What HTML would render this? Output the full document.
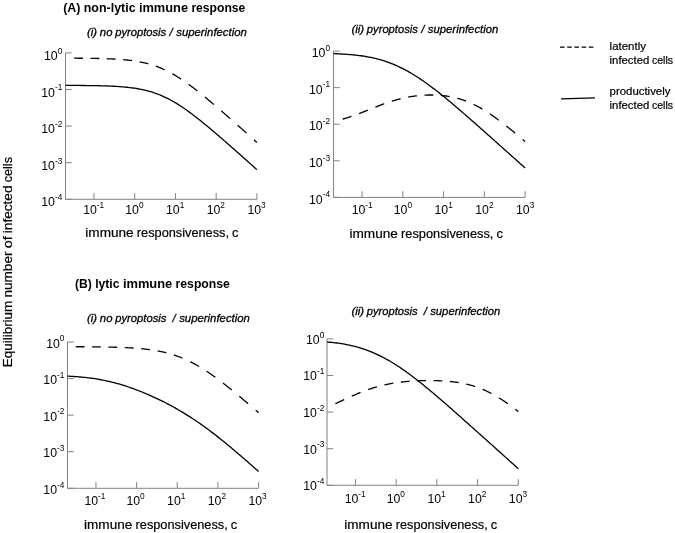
<!DOCTYPE html>
<html><head><meta charset="utf-8"><title>Equilibrium number of infected cells</title>
<style>html,body{margin:0;padding:0;background:#fff;}svg{display:block;font-family:"Liberation Sans",sans-serif;}</style></head><body>
<svg width="675" height="533" viewBox="0 0 675 533">
<rect width="675" height="533" fill="#ffffff"/>
<text y="11.8" font-size="13.0" font-weight="bold" fill="#000"><tspan x="63.20" textLength="17.28" lengthAdjust="spacingAndGlyphs">(A)</tspan> <tspan x="83.77" textLength="51.81" lengthAdjust="spacingAndGlyphs">non-lytic</tspan> <tspan x="138.88" textLength="49.21" lengthAdjust="spacingAndGlyphs">immune</tspan> <tspan x="191.39" textLength="54.01" lengthAdjust="spacingAndGlyphs">response</tspan></text>
<text y="287.5" font-size="13.0" font-weight="bold" fill="#000"><tspan x="75.00" textLength="16.84" lengthAdjust="spacingAndGlyphs">(B)</tspan> <tspan x="95.14" textLength="24.43" lengthAdjust="spacingAndGlyphs">lytic</tspan> <tspan x="122.88" textLength="49.40" lengthAdjust="spacingAndGlyphs">immune</tspan> <tspan x="175.59" textLength="54.21" lengthAdjust="spacingAndGlyphs">response</tspan></text>
<text y="36.0" font-size="11.4" font-style="italic" fill="#000" stroke="#000" stroke-width="0.3"><tspan x="87.10" textLength="10.02" lengthAdjust="spacingAndGlyphs">(i)</tspan> <tspan x="99.83" textLength="12.62" lengthAdjust="spacingAndGlyphs">no</tspan> <tspan x="115.17" textLength="51.00" lengthAdjust="spacingAndGlyphs">pyroptosis</tspan> <tspan x="169.61">/</tspan> <tspan x="176.22" textLength="70.58" lengthAdjust="spacingAndGlyphs">superinfection</tspan></text>
<text y="32.75" font-size="11.4" font-style="italic" fill="#000" stroke="#000" stroke-width="0.3"><tspan x="351.40" textLength="12.76" lengthAdjust="spacingAndGlyphs">(ii)</tspan> <tspan x="366.86" textLength="50.93" lengthAdjust="spacingAndGlyphs">pyroptosis</tspan> <tspan x="421.23">/</tspan> <tspan x="427.83" textLength="70.47" lengthAdjust="spacingAndGlyphs">superinfection</tspan></text>
<text y="322.3" font-size="11.4" font-style="italic" fill="#000" stroke="#000" stroke-width="0.3"><tspan x="87.10" textLength="10.05" lengthAdjust="spacingAndGlyphs">(i)</tspan> <tspan x="99.87" textLength="12.65" lengthAdjust="spacingAndGlyphs">no</tspan> <tspan x="115.24" textLength="51.12" lengthAdjust="spacingAndGlyphs">pyroptosis</tspan>  <tspan x="172.53">/</tspan> <tspan x="179.16" textLength="70.74" lengthAdjust="spacingAndGlyphs">superinfection</tspan></text>
<text y="314.75" font-size="11.4" font-style="italic" fill="#000" stroke="#000" stroke-width="0.3"><tspan x="351.40" textLength="12.70" lengthAdjust="spacingAndGlyphs">(ii)</tspan> <tspan x="366.80" textLength="50.72" lengthAdjust="spacingAndGlyphs">pyroptosis</tspan>  <tspan x="423.63">/</tspan> <tspan x="430.21" textLength="70.19" lengthAdjust="spacingAndGlyphs">superinfection</tspan></text>
<text transform="translate(11.8,367.2) rotate(-90)" y="0" font-size="13.0" fill="#000" stroke="#000" stroke-width="0.2"><tspan x="0.00" textLength="66.47" lengthAdjust="spacingAndGlyphs">Equilibrium</tspan> <tspan x="69.69" textLength="45.99" lengthAdjust="spacingAndGlyphs">number</tspan> <tspan x="118.91" textLength="11.89" lengthAdjust="spacingAndGlyphs">of</tspan> <tspan x="134.03" textLength="47.66" lengthAdjust="spacingAndGlyphs">infected</tspan> <tspan x="184.92" textLength="25.28" lengthAdjust="spacingAndGlyphs">cells</tspan></text>
<line x1="560" y1="47.2" x2="594" y2="47.2" stroke="#000" stroke-width="1.2" stroke-dasharray="4.6 2.6"/>
<line x1="561" y1="98.8" x2="595" y2="97.9" stroke="#000" stroke-width="1.35"/>
<text y="49.5" font-size="10.7" fill="#000" stroke="#000" stroke-width="0.2"><tspan x="609.60" textLength="36.40" lengthAdjust="spacingAndGlyphs">latently</tspan></text>
<text y="64.1" font-size="10.7" fill="#000" stroke="#000" stroke-width="0.2"><tspan x="609.60" textLength="39.67" lengthAdjust="spacingAndGlyphs">infected</tspan> <tspan x="651.96" textLength="21.04" lengthAdjust="spacingAndGlyphs">cells</tspan></text>
<text y="95.0" font-size="10.7" fill="#000" stroke="#000" stroke-width="0.2"><tspan x="609.60" textLength="60.80" lengthAdjust="spacingAndGlyphs">productively</tspan></text>
<text y="108.9" font-size="10.7" fill="#000" stroke="#000" stroke-width="0.2"><tspan x="609.60" textLength="39.67" lengthAdjust="spacingAndGlyphs">infected</tspan> <tspan x="651.96" textLength="21.04" lengthAdjust="spacingAndGlyphs">cells</tspan></text>
<text y="236.6" font-size="12.8" fill="#000" stroke="#000" stroke-width="0.2"><tspan x="85.30" textLength="48.31" lengthAdjust="spacingAndGlyphs">immune</tspan> <tspan x="136.85" textLength="92.17" lengthAdjust="spacingAndGlyphs">responsiveness,</tspan> <tspan x="232.07">c</tspan></text>
<text y="238.0" font-size="12.8" fill="#000" stroke="#000" stroke-width="0.2"><tspan x="349.50" textLength="48.37" lengthAdjust="spacingAndGlyphs">immune</tspan> <tspan x="401.11" textLength="92.29" lengthAdjust="spacingAndGlyphs">responsiveness,</tspan> <tspan x="496.47">c</tspan></text>
<text y="528.8" font-size="12.8" fill="#000" stroke="#000" stroke-width="0.2"><tspan x="84.00" textLength="48.31" lengthAdjust="spacingAndGlyphs">immune</tspan> <tspan x="135.55" textLength="92.17" lengthAdjust="spacingAndGlyphs">responsiveness,</tspan> <tspan x="230.77">c</tspan></text>
<text y="528.8" font-size="12.8" fill="#000" stroke="#000" stroke-width="0.2"><tspan x="344.30" textLength="48.21" lengthAdjust="spacingAndGlyphs">immune</tspan> <tspan x="395.74" textLength="91.99" lengthAdjust="spacingAndGlyphs">responsiveness,</tspan> <tspan x="490.78">c</tspan></text>
<path d="M65.5,52.9 L65.5,199.3 L256.9,199.3" fill="none" stroke="#828282" stroke-width="1"/>
<path d="M93.97,199.3 L93.97,193.10000000000002 M134.70,199.3 L134.70,193.10000000000002 M175.44,199.3 L175.44,193.10000000000002 M216.17,199.3 L216.17,193.10000000000002 M256.90,199.3 L256.90,193.10000000000002 M65.5,52.90 L71.7,52.90 M65.5,89.50 L71.7,89.50 M65.5,126.10 L71.7,126.10 M65.5,162.70 L71.7,162.70 M65.5,199.30 L71.7,199.30 " fill="none" stroke="#828282" stroke-width="1"/>
<text x="83.17" y="213.96" font-size="12.3" fill="#000">10<tspan font-size="8.3" dy="-6.3">-1</tspan></text>
<text x="125.20" y="213.96" font-size="12.3" fill="#000">10<tspan font-size="8.3" dy="-6.3">0</tspan></text>
<text x="165.94" y="213.96" font-size="12.3" fill="#000">10<tspan font-size="8.3" dy="-6.3">1</tspan></text>
<text x="206.67" y="213.96" font-size="12.3" fill="#000">10<tspan font-size="8.3" dy="-6.3">2</tspan></text>
<text x="247.40" y="213.96" font-size="12.3" fill="#000">10<tspan font-size="8.3" dy="-6.3">3</tspan></text>
<text x="62.35" y="60.00" font-size="12.3" text-anchor="end" fill="#000">10<tspan font-size="8.3" dy="-6.3">0</tspan></text>
<text x="62.35" y="96.60" font-size="12.3" text-anchor="end" fill="#000">10<tspan font-size="8.3" dy="-6.3">-1</tspan></text>
<text x="62.35" y="133.20" font-size="12.3" text-anchor="end" fill="#000">10<tspan font-size="8.3" dy="-6.3">-2</tspan></text>
<text x="62.35" y="169.80" font-size="12.3" text-anchor="end" fill="#000">10<tspan font-size="8.3" dy="-6.3">-3</tspan></text>
<text x="62.35" y="206.40" font-size="12.3" text-anchor="end" fill="#000">10<tspan font-size="8.3" dy="-6.3">-4</tspan></text>
<path d="M65.50,85.39 L67.11,85.40 L68.72,85.41 L70.33,85.41 L71.93,85.42 L73.54,85.43 L75.15,85.44 L76.76,85.45 L78.37,85.46 L79.98,85.47 L81.58,85.49 L83.19,85.50 L84.80,85.52 L86.41,85.54 L88.02,85.56 L89.63,85.58 L91.23,85.60 L92.84,85.63 L94.45,85.65 L96.06,85.68 L97.67,85.72 L99.28,85.75 L100.88,85.79 L102.49,85.84 L104.10,85.88 L105.71,85.94 L107.32,85.99 L108.93,86.05 L110.54,86.12 L112.14,86.19 L113.75,86.27 L115.36,86.36 L116.97,86.46 L118.58,86.56 L120.19,86.67 L121.79,86.79 L123.40,86.93 L125.01,87.07 L126.62,87.23 L128.23,87.39 L129.84,87.58 L131.44,87.78 L133.05,87.99 L134.66,88.22 L136.27,88.47 L137.88,88.74 L139.49,89.03 L141.09,89.34 L142.70,89.67 L144.31,90.03 L145.92,90.42 L147.53,90.82 L149.14,91.26 L150.75,91.72 L152.35,92.22 L153.96,92.74 L155.57,93.30 L157.18,93.88 L158.79,94.50 L160.40,95.15 L162.00,95.83 L163.61,96.55 L165.22,97.29 L166.83,98.07 L168.44,98.89 L170.05,99.73 L171.65,100.61 L173.26,101.52 L174.87,102.46 L176.48,103.42 L178.09,104.42 L179.70,105.44 L181.31,106.50 L182.91,107.57 L184.52,108.67 L186.13,109.80 L187.74,110.94 L189.35,112.11 L190.96,113.30 L192.56,114.50 L194.17,115.72 L195.78,116.96 L197.39,118.22 L199.00,119.49 L200.61,120.77 L202.21,122.07 L203.82,123.38 L205.43,124.70 L207.04,126.02 L208.65,127.36 L210.26,128.71 L211.86,130.06 L213.47,131.43 L215.08,132.79 L216.69,134.17 L218.30,135.55 L219.91,136.94 L221.52,138.33 L223.12,139.73 L224.73,141.13 L226.34,142.53 L227.95,143.94 L229.56,145.35 L231.17,146.76 L232.77,148.18 L234.38,149.60 L235.99,151.02 L237.60,152.44 L239.21,153.86 L240.82,155.29 L242.42,156.72 L244.03,158.15 L245.64,159.58 L247.25,161.01 L248.86,162.45 L250.47,163.88 L252.07,165.32 L253.68,166.75 L255.29,168.19 L256.90,169.63" fill="none" stroke="#000" stroke-width="1.3" stroke-linejoin="round"/>
<path d="M74.10,58.19 L75.36,58.20 L76.61,58.21 L77.87,58.22 L79.13,58.23 L80.39,58.24 L81.64,58.25 L82.90,58.26 M90.46,58.35 L91.72,58.37 L92.97,58.39 L94.23,58.41 L95.49,58.43 L96.75,58.46 L98.00,58.48 L99.26,58.51 M106.82,58.73 L108.08,58.78 L109.33,58.83 L110.59,58.88 L111.85,58.94 L113.11,59.00 L114.36,59.06 L115.62,59.13 M123.18,59.67 L124.44,59.78 L125.69,59.89 L126.95,60.02 L128.21,60.15 L129.47,60.29 L130.72,60.44 L131.98,60.60 M139.54,61.80 L140.80,62.04 L142.05,62.30 L143.31,62.57 L144.57,62.85 L145.83,63.15 L147.08,63.47 L148.34,63.80 M155.90,66.17 L157.16,66.63 L158.41,67.11 L159.67,67.61 L160.93,68.13 L162.19,68.67 L163.44,69.23 L164.70,69.81 M172.26,73.71 L173.52,74.42 L174.77,75.16 L176.03,75.91 L177.29,76.68 L178.55,77.47 L179.80,78.27 L181.06,79.09 M188.62,84.34 L189.88,85.26 L191.13,86.19 L192.39,87.13 L193.65,88.08 L194.91,89.05 L196.16,90.02 L197.42,91.00 M204.98,97.08 L206.24,98.12 L207.49,99.16 L208.75,100.21 L210.01,101.26 L211.27,102.32 L212.52,103.38 L213.78,104.45 M221.34,110.94 L222.60,112.03 L223.85,113.12 L225.11,114.21 L226.37,115.31 L227.63,116.41 L228.88,117.51 L230.14,118.62 M237.70,125.29 L238.96,126.40 L240.21,127.52 L241.47,128.63 L242.73,129.75 L243.99,130.87 L245.24,131.98 L246.50,133.10 M254.06,139.85 L254.47,140.21 L254.87,140.57 L255.28,140.93 L255.68,141.30 L256.09,141.66 L256.49,142.02 L256.90,142.39 " fill="none" stroke="#000" stroke-width="1.3" stroke-linejoin="round"/>
<path d="M333.55,51.05 L333.55,197.4 L525.1,197.4" fill="none" stroke="#828282" stroke-width="1"/>
<path d="M362.04,197.4 L362.04,191.20000000000002 M402.81,197.4 L402.81,191.20000000000002 M443.57,197.4 L443.57,191.20000000000002 M484.34,197.4 L484.34,191.20000000000002 M525.10,197.4 L525.10,191.20000000000002 M333.55,51.05 L339.75,51.05 M333.55,87.64 L339.75,87.64 M333.55,124.23 L339.75,124.23 M333.55,160.81 L339.75,160.81 M333.55,197.40 L339.75,197.40 " fill="none" stroke="#828282" stroke-width="1"/>
<text x="351.64" y="213.85" font-size="12.3" fill="#000">10<tspan font-size="8.3" dy="-6.3">-1</tspan></text>
<text x="393.71" y="213.85" font-size="12.3" fill="#000">10<tspan font-size="8.3" dy="-6.3">0</tspan></text>
<text x="434.47" y="213.85" font-size="12.3" fill="#000">10<tspan font-size="8.3" dy="-6.3">1</tspan></text>
<text x="475.24" y="213.85" font-size="12.3" fill="#000">10<tspan font-size="8.3" dy="-6.3">2</tspan></text>
<text x="516.00" y="213.85" font-size="12.3" fill="#000">10<tspan font-size="8.3" dy="-6.3">3</tspan></text>
<text x="330.10" y="57.15" font-size="12.3" text-anchor="end" fill="#000">10<tspan font-size="8.3" dy="-6.3">0</tspan></text>
<text x="330.10" y="93.74" font-size="12.3" text-anchor="end" fill="#000">10<tspan font-size="8.3" dy="-6.3">-1</tspan></text>
<text x="330.10" y="130.33" font-size="12.3" text-anchor="end" fill="#000">10<tspan font-size="8.3" dy="-6.3">-2</tspan></text>
<text x="330.10" y="166.91" font-size="12.3" text-anchor="end" fill="#000">10<tspan font-size="8.3" dy="-6.3">-3</tspan></text>
<text x="330.10" y="203.50" font-size="12.3" text-anchor="end" fill="#000">10<tspan font-size="8.3" dy="-6.3">-4</tspan></text>
<path d="M333.55,53.64 L335.16,53.70 L336.77,53.77 L338.38,53.84 L339.99,53.92 L341.60,54.00 L343.21,54.09 L344.82,54.19 L346.43,54.30 L348.04,54.42 L349.65,54.55 L351.26,54.68 L352.87,54.83 L354.48,54.99 L356.09,55.16 L357.69,55.35 L359.30,55.55 L360.91,55.76 L362.52,55.99 L364.13,56.23 L365.74,56.50 L367.35,56.77 L368.96,57.07 L370.57,57.39 L372.18,57.73 L373.79,58.08 L375.40,58.46 L377.01,58.86 L378.62,59.29 L380.23,59.73 L381.84,60.20 L383.45,60.70 L385.06,61.22 L386.67,61.76 L388.28,62.33 L389.89,62.92 L391.50,63.54 L393.11,64.19 L394.72,64.86 L396.33,65.56 L397.94,66.28 L399.55,67.04 L401.16,67.81 L402.77,68.62 L404.38,69.45 L405.98,70.30 L407.59,71.18 L409.20,72.09 L410.81,73.02 L412.42,73.98 L414.03,74.95 L415.64,75.96 L417.25,76.98 L418.86,78.03 L420.47,79.10 L422.08,80.19 L423.69,81.30 L425.30,82.44 L426.91,83.59 L428.52,84.76 L430.13,85.94 L431.74,87.15 L433.35,88.36 L434.96,89.60 L436.57,90.85 L438.18,92.11 L439.79,93.38 L441.40,94.67 L443.01,95.97 L444.62,97.28 L446.23,98.60 L447.84,99.93 L449.45,101.27 L451.06,102.61 L452.67,103.97 L454.27,105.33 L455.88,106.70 L457.49,108.07 L459.10,109.45 L460.71,110.84 L462.32,112.23 L463.93,113.62 L465.54,115.02 L467.15,116.42 L468.76,117.83 L470.37,119.24 L471.98,120.65 L473.59,122.06 L475.20,123.48 L476.81,124.90 L478.42,126.32 L480.03,127.74 L481.64,129.17 L483.25,130.60 L484.86,132.03 L486.47,133.46 L488.08,134.89 L489.69,136.32 L491.30,137.75 L492.91,139.19 L494.52,140.62 L496.13,142.06 L497.74,143.49 L499.35,144.93 L500.96,146.37 L502.56,147.81 L504.17,149.25 L505.78,150.69 L507.39,152.13 L509.00,153.57 L510.61,155.01 L512.22,156.45 L513.83,157.89 L515.44,159.33 L517.05,160.78 L518.66,162.22 L520.27,163.66 L521.88,165.10 L523.49,166.55 L525.10,167.99" fill="none" stroke="#000" stroke-width="1.3" stroke-linejoin="round"/>
<path d="M342.70,119.10 L343.96,118.75 L345.21,118.39 L346.47,118.01 L347.73,117.63 L348.99,117.23 L350.24,116.82 L351.50,116.40 M359.06,113.66 L360.32,113.18 L361.57,112.69 L362.83,112.19 L364.09,111.69 L365.35,111.19 L366.60,110.68 L367.86,110.17 M375.42,107.12 L376.68,106.62 L377.93,106.13 L379.19,105.64 L380.45,105.16 L381.71,104.68 L382.96,104.22 L384.22,103.76 M391.78,101.20 L393.04,100.81 L394.29,100.44 L395.55,100.07 L396.81,99.72 L398.07,99.38 L399.32,99.05 L400.58,98.74 M408.14,97.11 L409.40,96.88 L410.65,96.67 L411.91,96.47 L413.17,96.28 L414.43,96.11 L415.68,95.94 L416.94,95.79 M424.50,95.16 L425.76,95.10 L427.01,95.06 L428.27,95.02 L429.53,95.00 L430.79,94.99 L432.04,95.00 L433.30,95.02 M440.86,95.42 L442.12,95.54 L443.37,95.68 L444.63,95.83 L445.89,95.99 L447.15,96.17 L448.40,96.37 L449.66,96.59 M457.22,98.27 L458.48,98.62 L459.73,98.98 L460.99,99.37 L462.25,99.78 L463.51,100.20 L464.76,100.65 L466.02,101.12 M473.58,104.39 L474.84,105.00 L476.09,105.64 L477.35,106.30 L478.61,106.97 L479.87,107.67 L481.12,108.38 L482.38,109.12 M489.94,113.91 L491.20,114.76 L492.45,115.63 L493.71,116.51 L494.97,117.40 L496.23,118.31 L497.48,119.23 L498.74,120.16 M506.30,125.99 L507.56,126.99 L508.81,128.00 L510.07,129.02 L511.33,130.04 L512.59,131.07 L513.84,132.10 L515.10,133.15 M522.66,139.52 L523.01,139.81 L523.36,140.11 L523.71,140.41 L524.05,140.71 L524.40,141.01 L524.75,141.31 L525.10,141.60 " fill="none" stroke="#000" stroke-width="1.3" stroke-linejoin="round"/>
<path d="M67.5,342.0 L67.5,488.3 L258.6,488.3" fill="none" stroke="#828282" stroke-width="1"/>
<path d="M95.93,488.3 L95.93,482.1 M136.59,488.3 L136.59,482.1 M177.26,488.3 L177.26,482.1 M217.93,488.3 L217.93,482.1 M258.60,488.3 L258.60,482.1 M67.5,342.00 L73.7,342.00 M67.5,378.57 L73.7,378.57 M67.5,415.15 L73.7,415.15 M67.5,451.73 L73.7,451.73 M67.5,488.30 L73.7,488.30 " fill="none" stroke="#828282" stroke-width="1"/>
<text x="84.43" y="505.00" font-size="12.3" fill="#000">10<tspan font-size="8.3" dy="-6.3">-1</tspan></text>
<text x="126.39" y="505.00" font-size="12.3" fill="#000">10<tspan font-size="8.3" dy="-6.3">0</tspan></text>
<text x="167.06" y="505.00" font-size="12.3" fill="#000">10<tspan font-size="8.3" dy="-6.3">1</tspan></text>
<text x="207.73" y="505.00" font-size="12.3" fill="#000">10<tspan font-size="8.3" dy="-6.3">2</tspan></text>
<text x="248.40" y="505.00" font-size="12.3" fill="#000">10<tspan font-size="8.3" dy="-6.3">3</tspan></text>
<text x="64.45" y="347.60" font-size="12.3" text-anchor="end" fill="#000">10<tspan font-size="8.3" dy="-6.3">0</tspan></text>
<text x="64.45" y="384.18" font-size="12.3" text-anchor="end" fill="#000">10<tspan font-size="8.3" dy="-6.3">-1</tspan></text>
<text x="64.45" y="420.75" font-size="12.3" text-anchor="end" fill="#000">10<tspan font-size="8.3" dy="-6.3">-2</tspan></text>
<text x="64.45" y="457.33" font-size="12.3" text-anchor="end" fill="#000">10<tspan font-size="8.3" dy="-6.3">-3</tspan></text>
<text x="64.45" y="493.90" font-size="12.3" text-anchor="end" fill="#000">10<tspan font-size="8.3" dy="-6.3">-4</tspan></text>
<path d="M67.50,376.12 L69.11,376.20 L70.71,376.29 L72.32,376.38 L73.92,376.49 L75.53,376.60 L77.14,376.72 L78.74,376.84 L80.35,376.98 L81.95,377.13 L83.56,377.29 L85.16,377.45 L86.77,377.63 L88.38,377.82 L89.98,378.03 L91.59,378.24 L93.19,378.47 L94.80,378.71 L96.41,378.96 L98.01,379.23 L99.62,379.51 L101.22,379.80 L102.83,380.11 L104.44,380.43 L106.04,380.77 L107.65,381.12 L109.25,381.49 L110.86,381.87 L112.46,382.27 L114.07,382.68 L115.68,383.10 L117.28,383.54 L118.89,383.99 L120.49,384.46 L122.10,384.94 L123.71,385.44 L125.31,385.94 L126.92,386.47 L128.52,387.00 L130.13,387.55 L131.74,388.11 L133.34,388.69 L134.95,389.28 L136.55,389.88 L138.16,390.49 L139.76,391.12 L141.37,391.75 L142.98,392.40 L144.58,393.07 L146.19,393.74 L147.79,394.43 L149.40,395.12 L151.01,395.83 L152.61,396.56 L154.22,397.29 L155.82,398.04 L157.43,398.79 L159.04,399.56 L160.64,400.35 L162.25,401.14 L163.85,401.95 L165.46,402.76 L167.06,403.60 L168.67,404.44 L170.28,405.30 L171.88,406.16 L173.49,407.05 L175.09,407.94 L176.70,408.85 L178.31,409.77 L179.91,410.71 L181.52,411.66 L183.12,412.62 L184.73,413.59 L186.34,414.59 L187.94,415.59 L189.55,416.61 L191.15,417.64 L192.76,418.69 L194.36,419.76 L195.97,420.83 L197.58,421.93 L199.18,423.03 L200.79,424.15 L202.39,425.29 L204.00,426.44 L205.61,427.60 L207.21,428.78 L208.82,429.97 L210.42,431.17 L212.03,432.39 L213.64,433.62 L215.24,434.86 L216.85,436.12 L218.45,437.38 L220.06,438.66 L221.66,439.94 L223.27,441.24 L224.88,442.55 L226.48,443.86 L228.09,445.19 L229.69,446.52 L231.30,447.86 L232.91,449.21 L234.51,450.57 L236.12,451.93 L237.72,453.30 L239.33,454.67 L240.94,456.05 L242.54,457.43 L244.15,458.82 L245.75,460.22 L247.36,461.61 L248.96,463.01 L250.57,464.42 L252.18,465.83 L253.78,467.24 L255.39,468.65 L256.99,470.07 L258.60,471.48" fill="none" stroke="#000" stroke-width="1.3" stroke-linejoin="round"/>
<path d="M75.70,346.72 L76.96,346.73 L78.21,346.73 L79.47,346.74 L80.73,346.75 L81.99,346.75 L83.24,346.76 L84.50,346.77 M92.06,346.83 L93.32,346.84 L94.57,346.86 L95.83,346.87 L97.09,346.89 L98.35,346.90 L99.60,346.92 L100.86,346.94 M108.42,347.07 L109.68,347.10 L110.93,347.13 L112.19,347.16 L113.45,347.19 L114.71,347.23 L115.96,347.26 L117.22,347.30 M124.78,347.59 L126.04,347.65 L127.29,347.71 L128.55,347.78 L129.81,347.85 L131.07,347.92 L132.32,348.00 L133.58,348.08 M141.14,348.68 L142.40,348.80 L143.65,348.93 L144.91,349.07 L146.17,349.21 L147.43,349.36 L148.68,349.52 L149.94,349.69 M157.50,350.89 L158.76,351.12 L160.01,351.37 L161.27,351.63 L162.53,351.90 L163.79,352.19 L165.04,352.49 L166.30,352.80 M173.86,354.98 L175.12,355.40 L176.37,355.83 L177.63,356.28 L178.89,356.75 L180.15,357.23 L181.40,357.73 L182.66,358.24 M190.22,361.71 L191.48,362.34 L192.73,363.00 L193.99,363.67 L195.25,364.35 L196.51,365.05 L197.76,365.77 L199.02,366.51 M206.58,371.23 L207.84,372.07 L209.09,372.92 L210.35,373.78 L211.61,374.65 L212.87,375.54 L214.12,376.44 L215.38,377.34 M222.94,383.01 L224.20,383.99 L225.45,384.97 L226.71,385.96 L227.97,386.96 L229.23,387.96 L230.48,388.97 L231.74,389.99 M239.30,396.23 L240.56,397.28 L241.81,398.34 L243.07,399.40 L244.33,400.47 L245.59,401.54 L246.84,402.61 L248.10,403.69 M255.66,410.22 L256.08,410.58 L256.50,410.95 L256.92,411.31 L257.34,411.68 L257.76,412.05 L258.18,412.41 L258.60,412.78 " fill="none" stroke="#000" stroke-width="1.3" stroke-linejoin="round"/>
<path d="M327.0,338.9 L327.0,485.3 L518.3,485.3" fill="none" stroke="#828282" stroke-width="1"/>
<path d="M355.46,485.3 L355.46,479.1 M396.17,485.3 L396.17,479.1 M436.88,485.3 L436.88,479.1 M477.59,485.3 L477.59,479.1 M518.30,485.3 L518.30,479.1 M327.0,338.90 L333.2,338.90 M327.0,375.50 L333.2,375.50 M327.0,412.10 L333.2,412.10 M327.0,448.70 L333.2,448.70 M327.0,485.30 L333.2,485.30 " fill="none" stroke="#828282" stroke-width="1"/>
<text x="344.66" y="503.04" font-size="12.3" fill="#000">10<tspan font-size="8.3" dy="-6.3">-1</tspan></text>
<text x="386.67" y="503.04" font-size="12.3" fill="#000">10<tspan font-size="8.3" dy="-6.3">0</tspan></text>
<text x="427.38" y="503.04" font-size="12.3" fill="#000">10<tspan font-size="8.3" dy="-6.3">1</tspan></text>
<text x="468.09" y="503.04" font-size="12.3" fill="#000">10<tspan font-size="8.3" dy="-6.3">2</tspan></text>
<text x="508.80" y="503.04" font-size="12.3" fill="#000">10<tspan font-size="8.3" dy="-6.3">3</tspan></text>
<text x="324.35" y="343.80" font-size="12.3" text-anchor="end" fill="#000">10<tspan font-size="8.3" dy="-6.3">0</tspan></text>
<text x="324.35" y="380.40" font-size="12.3" text-anchor="end" fill="#000">10<tspan font-size="8.3" dy="-6.3">-1</tspan></text>
<text x="324.35" y="417.00" font-size="12.3" text-anchor="end" fill="#000">10<tspan font-size="8.3" dy="-6.3">-2</tspan></text>
<text x="324.35" y="453.60" font-size="12.3" text-anchor="end" fill="#000">10<tspan font-size="8.3" dy="-6.3">-3</tspan></text>
<text x="324.35" y="490.20" font-size="12.3" text-anchor="end" fill="#000">10<tspan font-size="8.3" dy="-6.3">-4</tspan></text>
<path d="M327.00,341.96 L328.61,342.10 L330.22,342.25 L331.82,342.42 L333.43,342.59 L335.04,342.78 L336.65,342.98 L338.25,343.20 L339.86,343.43 L341.47,343.68 L343.08,343.94 L344.68,344.22 L346.29,344.52 L347.90,344.84 L349.51,345.18 L351.11,345.53 L352.72,345.91 L354.33,346.31 L355.94,346.73 L357.54,347.17 L359.15,347.63 L360.76,348.12 L362.37,348.63 L363.97,349.17 L365.58,349.72 L367.19,350.31 L368.80,350.91 L370.40,351.54 L372.01,352.20 L373.62,352.88 L375.23,353.58 L376.83,354.31 L378.44,355.07 L380.05,355.85 L381.66,356.65 L383.26,357.48 L384.87,358.33 L386.48,359.21 L388.09,360.11 L389.69,361.04 L391.30,361.99 L392.91,362.96 L394.52,363.95 L396.13,364.97 L397.73,366.01 L399.34,367.06 L400.95,368.14 L402.56,369.24 L404.16,370.36 L405.77,371.50 L407.38,372.66 L408.99,373.83 L410.59,375.03 L412.20,376.23 L413.81,377.46 L415.42,378.69 L417.02,379.94 L418.63,381.21 L420.24,382.49 L421.85,383.78 L423.45,385.08 L425.06,386.39 L426.67,387.71 L428.28,389.04 L429.88,390.38 L431.49,391.72 L433.10,393.08 L434.71,394.44 L436.31,395.81 L437.92,397.18 L439.53,398.56 L441.14,399.95 L442.74,401.34 L444.35,402.73 L445.96,404.13 L447.57,405.53 L449.17,406.94 L450.78,408.35 L452.39,409.76 L454.00,411.18 L455.61,412.60 L457.21,414.02 L458.82,415.44 L460.43,416.86 L462.04,418.29 L463.64,419.71 L465.25,421.14 L466.86,422.57 L468.47,424.01 L470.07,425.44 L471.68,426.87 L473.29,428.31 L474.90,429.74 L476.50,431.18 L478.11,432.62 L479.72,434.05 L481.33,435.49 L482.93,436.93 L484.54,438.37 L486.15,439.81 L487.76,441.25 L489.36,442.69 L490.97,444.14 L492.58,445.58 L494.19,447.02 L495.79,448.46 L497.40,449.90 L499.01,451.35 L500.62,452.79 L502.22,454.23 L503.83,455.68 L505.44,457.12 L507.05,458.56 L508.65,460.01 L510.26,461.45 L511.87,462.90 L513.48,464.34 L515.08,465.78 L516.69,467.23 L518.30,468.67" fill="none" stroke="#000" stroke-width="1.3" stroke-linejoin="round"/>
<path d="M335.40,403.68 L336.66,403.11 L337.91,402.53 L339.17,401.96 L340.43,401.38 L341.69,400.79 L342.94,400.21 L344.20,399.63 M351.76,396.18 L353.02,395.63 L354.27,395.08 L355.53,394.53 L356.79,394.00 L358.05,393.47 L359.30,392.96 L360.56,392.45 M368.12,389.62 L369.38,389.18 L370.63,388.76 L371.89,388.36 L373.15,387.96 L374.41,387.58 L375.66,387.20 L376.92,386.84 M384.48,384.93 L385.74,384.65 L386.99,384.38 L388.25,384.13 L389.51,383.88 L390.77,383.65 L392.02,383.42 L393.28,383.21 M400.84,382.12 L402.10,381.98 L403.35,381.84 L404.61,381.70 L405.87,381.58 L407.13,381.47 L408.38,381.36 L409.64,381.26 M417.20,380.80 L418.46,380.75 L419.71,380.70 L420.97,380.66 L422.23,380.63 L423.49,380.60 L424.74,380.58 L426.00,380.56 M433.56,380.59 L434.82,380.62 L436.07,380.65 L437.33,380.69 L438.59,380.74 L439.85,380.79 L441.10,380.85 L442.36,380.92 M449.92,381.50 L451.18,381.63 L452.43,381.77 L453.69,381.92 L454.95,382.08 L456.21,382.25 L457.46,382.43 L458.72,382.63 M466.28,384.09 L467.54,384.38 L468.79,384.70 L470.05,385.03 L471.31,385.37 L472.57,385.74 L473.82,386.12 L475.08,386.52 M482.64,389.34 L483.90,389.88 L485.15,390.44 L486.41,391.02 L487.67,391.62 L488.93,392.24 L490.18,392.88 L491.44,393.54 M499.00,397.90 L500.26,398.69 L501.51,399.50 L502.77,400.32 L504.03,401.16 L505.29,402.01 L506.54,402.88 L507.80,403.76 M515.36,409.32 L515.78,409.64 L516.20,409.97 L516.62,410.29 L517.04,410.62 L517.46,410.94 L517.88,411.27 L518.30,411.60 " fill="none" stroke="#000" stroke-width="1.3" stroke-linejoin="round"/>
</svg></body></html>
